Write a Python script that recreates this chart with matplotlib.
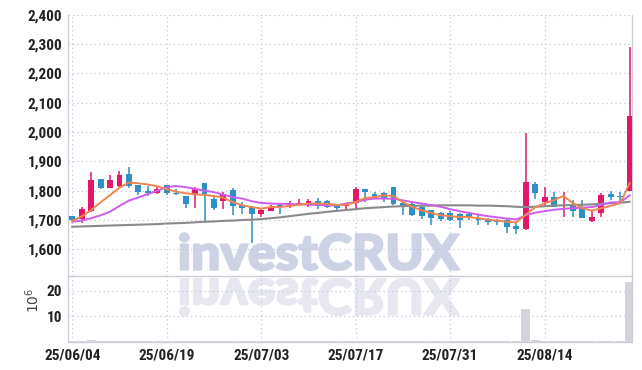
import numpy as np
import matplotlib

matplotlib.use('Agg')
from matplotlib import pyplot as plt
from matplotlib import font_manager
from matplotlib.textpath import TextPath
from matplotlib.patches import PathPatch
from matplotlib.font_manager import FontProperties
import matplotlib.transforms as mtransforms

# trading days shown on the chart
dates = ['25/06/04', '25/06/05', '25/06/09', '25/06/10', '25/06/11', '25/06/12', '25/06/13',
         '25/06/16', '25/06/17', '25/06/18', '25/06/19', '25/06/20', '25/06/23', '25/06/24',
         '25/06/25', '25/06/26', '25/06/27', '25/06/30', '25/07/01', '25/07/02', '25/07/03',
         '25/07/04', '25/07/07', '25/07/08', '25/07/09', '25/07/10', '25/07/11', '25/07/14',
         '25/07/15', '25/07/16', '25/07/17', '25/07/18', '25/07/21', '25/07/22', '25/07/23',
         '25/07/24', '25/07/25', '25/07/28', '25/07/29', '25/07/30', '25/07/31', '25/08/01',
         '25/08/04', '25/08/05', '25/08/06', '25/08/07', '25/08/08', '25/08/11', '25/08/12',
         '25/08/13', '25/08/14', '25/08/18', '25/08/19', '25/08/20', '25/08/21', '25/08/22',
         '25/08/25', '25/08/26', '25/08/27', '25/08/28']

opens = [1712, 1703, 1730, 1839, 1809, 1815, 1858, 1818, 1799, 1792,
         1818, 1793, 1781, 1786, 1825, 1773, 1765, 1801, 1750, 1744,
         1719, 1730, 1750, 1750, 1752, 1755, 1764, 1766, 1750, 1746,
         1758, 1805, 1788, 1793, 1811, 1759, 1756, 1744, 1733, 1725,
         1725, 1722, 1722, 1706, 1703, 1699, 1700, 1680, 1669, 1823,
         1762, 1777, 1746, 1751, 1745, 1695, 1725, 1789, 1781, 1800]
highs = [1714, 1743, 1863, 1841, 1852, 1866, 1882, 1820, 1816, 1812,
         1820, 1806, 1783, 1811, 1826, 1785, 1796, 1808, 1761, 1746,
         1741, 1750, 1759, 1764, 1770, 1770, 1775, 1767, 1752, 1752,
         1813, 1806, 1795, 1795, 1812, 1761, 1760, 1746, 1735, 1727,
         1730, 1724, 1727, 1717, 1706, 1702, 1706, 1692, 1995, 1830,
         1814, 1797, 1797, 1768, 1768, 1734, 1791, 1800, 1797, 2290]
lows = [1698, 1690, 1727, 1807, 1808, 1812, 1810, 1784, 1782, 1790,
        1786, 1786, 1741, 1742, 1690, 1735, 1739, 1718, 1722, 1623,
        1710, 1729, 1722, 1741, 1750, 1744, 1739, 1740, 1733, 1737,
        1733, 1761, 1773, 1761, 1751, 1718, 1712, 1705, 1684, 1695,
        1695, 1673, 1700, 1683, 1683, 1683, 1655, 1652, 1667, 1770,
        1745, 1743, 1711, 1711, 1708, 1694, 1711, 1768, 1762, 1798]
closes = [1700, 1737, 1836, 1809, 1836, 1853, 1815, 1795, 1792, 1806,
          1793, 1790, 1756, 1804, 1790, 1742, 1790, 1748, 1741, 1720,
          1733, 1744, 1743, 1756, 1759, 1764, 1748, 1744, 1742, 1750,
          1805, 1795, 1780, 1775, 1753, 1748, 1716, 1714, 1707, 1705,
          1701, 1701, 1709, 1700, 1693, 1694, 1677, 1669, 1828, 1792,
          1778, 1743, 1751, 1732, 1708, 1709, 1785, 1780, 1777, 2055]

# volume in millions
volume = [0.15, 0.25, 0.6, 0.2, 0.2, 0.25, 0.3, 0.15, 0.1, 0.1,
          0.12, 0.08, 0.15, 0.12, 0.2, 0.12, 0.1, 0.15, 0.08, 0.15,
          0.1, 0.08, 0.08, 0.06, 0.07, 0.07, 0.08, 0.08, 0.06, 0.06,
          0.2, 0.1, 0.06, 0.07, 0.1, 0.07, 0.1, 0.08, 0.08, 0.07,
          0.06, 0.08, 0.06, 0.06, 0.05, 0.05, 0.1, 0.1, 12.8, 0.45,
          0.35, 0.2, 0.15, 0.12, 0.15, 0.1, 0.15, 0.1, 0.08, 23.7]

# moving average lines
ma_short = [1697, 1712, 1734, 1760, 1785, 1810, 1828, 1825, 1821, 1815,
            1805, 1797, 1791, 1788, 1785, 1782, 1776, 1761, 1750, 1744,
            1739, 1744, 1744, 1748, 1752, 1756, 1756, 1755, 1751, 1752,
            1761, 1775, 1778, 1784, 1782, 1761, 1744, 1733, 1724, 1716,
            1713, 1710, 1710, 1706, 1701, 1698, 1694, 1692, 1718, 1743,
            1757, 1768, 1782, 1757, 1740, 1732, 1740, 1748, 1757, 1826]
ma_mid = [1694, 1698, 1706, 1716, 1728, 1748, 1766, 1777, 1788, 1800,
          1812, 1816, 1812, 1806, 1800, 1795, 1786, 1778, 1773, 1764,
          1758, 1756, 1755, 1755, 1753, 1752, 1752, 1750, 1750, 1756,
          1761, 1769, 1773, 1773, 1772, 1767, 1761, 1756, 1751, 1745,
          1737, 1730, 1724, 1718, 1713, 1709, 1705, 1702, 1716, 1725,
          1730, 1735, 1738, 1740, 1742, 1744, 1751, 1760, 1760, 1784]
ma_long = [1677, 1678, 1679, 1680, 1681, 1682, 1683, 1684, 1685, 1686,
           1688, 1689, 1690, 1692, 1694, 1695, 1697, 1698, 1700, 1701,
           1703, 1706, 1709, 1713, 1717, 1721, 1724, 1728, 1731, 1734,
           1737, 1740, 1742, 1744, 1746, 1747, 1748, 1749, 1749, 1750,
           1750, 1750, 1750, 1749, 1749, 1748, 1747, 1745, 1744, 1745,
           1747, 1749, 1750, 1751, 1752, 1753, 1755, 1757, 1759, 1762]

price_ticks = [1600, 1700, 1800, 1900, 2000, 2100, 2200, 2300, 2400]
volume_ticks = [10, 20]
date_tick_step = 10

UP = '#e2176a'
DOWN = '#2d90c6'
GRID = '#c4c8dc'
EDGE = '#cdced6'

# pick a narrow face for the tick labels if one is installed
installed = {f.name for f in font_manager.fontManager.ttflist}
tick_font, tick_stretch, tick_size = 'DejaVu Sans', 'condensed', 10.5
for name in ['Liberation Sans Narrow', 'Roboto Condensed', 'Open Sans Condensed',
             'Noto Sans Condensed', 'DejaVu Sans Condensed']:
    if name in installed:
        tick_font, tick_stretch, tick_size = name, 'normal', 11
        break

W, H = 642, 370
fig = plt.figure(figsize=(W / 100, H / 100), dpi=100)

left, right = 68, 632
top, mid, bottom = 14.7, 275.7, 341.5
ax = fig.add_axes([left / W, 1 - mid / H, (right - left) / W, (mid - top) / H])
vax = fig.add_axes([left / W, 1 - bottom / H, (right - left) / W, (bottom - mid) / H], sharex=ax)

x = np.arange(len(dates))
o = np.array(opens)
c = np.array(closes)
colors = [UP if cc >= oo else DOWN for oo, cc in zip(o, c)]

# candles
ax.vlines(x, lows, highs, colors=colors, linewidth=1.1, zorder=3)
body_lo = np.minimum(o, c)
body_h = np.maximum(np.abs(c - o), 2)
ax.bar(x, body_h, bottom=body_lo, width=0.62, color=colors, linewidth=0, zorder=3)

ax.plot(x, ma_long, color='#8a8a8a', linewidth=1.5, zorder=4)
ax.plot(x, ma_mid, color='#cf5cf0', linewidth=1.4, zorder=4)
ax.plot(x, ma_short, color='#ef8550', linewidth=1.4, zorder=4)

vax.bar(x, volume, width=0.98, color='#d4d4dc', linewidth=0, zorder=3)

ax.set_xlim(-0.45, 59.25)
ax.set_ylim(1510, 2400)
vax.set_ylim(0, 26)

ax.set_yticks(price_ticks)
ax.set_yticklabels(['{:,}'.format(t) for t in price_ticks])
vax.set_yticks(volume_ticks)
vax.set_yticklabels([str(t) for t in volume_ticks])
tick_pos = x[::date_tick_step]
vax.set_xticks(tick_pos)
vax.set_xticklabels([dates[i] for i in tick_pos])
ax.tick_params(axis='x', labelbottom=False)

for a in (ax, vax):
    a.set_axisbelow(True)
    a.grid(True, color=GRID, linestyle=(0, (1, 2.5)), linewidth=0.9)
    a.tick_params(length=0, colors='#222222', labelsize=tick_size)
    for lab in a.get_xticklabels() + a.get_yticklabels():
        lab.set_family(tick_font)
        lab.set_stretch(tick_stretch)
        lab.set_fontweight('bold')
    a.spines['top'].set_visible(False)
    for s in ('left', 'right', 'bottom'):
        a.spines[s].set_color(EDGE)
        a.spines[s].set_linewidth(1.0)
    a.patch.set_alpha(0)
    a.set_zorder(2)
ax.tick_params(axis='y', pad=4)
vax.tick_params(axis='y', pad=4)
vax.tick_params(axis='x', pad=5)

fig.text(33 / W, 1 - 300 / H, r'$10^6$', rotation=90, ha='center', va='center',
         fontsize=10, color='#444444')

# watermark with its mirrored reflection, behind the axes
fp = FontProperties(family=['Lato', 'DejaVu Sans'], weight='black')
tp = TextPath((0, 0), 'investCRUX', size=50, prop=fp)
bb = tp.get_extents()
wx0, wx1 = 180, 459
wy_top, wy_base = 233.3, 270.0
sx = (wx1 - wx0) / bb.width
sy = (wy_base - wy_top) / bb.height
tr_up = mtransforms.Affine2D().translate(-bb.x0, -bb.y0).scale(sx, sy).translate(wx0, H - wy_base)
tr_dn = mtransforms.Affine2D().translate(-bb.x0, -bb.y0).scale(sx, -sy).translate(wx0, H - 278.7)
fig.add_artist(PathPatch(tp, transform=tr_up, facecolor='#cdd3e5', edgecolor='#cdd3e5',
                         linewidth=1.6, joinstyle='round', zorder=1))
fig.add_artist(PathPatch(tp, transform=tr_dn, facecolor='#e6e7ef', edgecolor='#e6e7ef',
                         linewidth=1.6, joinstyle='round', zorder=1))

fig.savefig('out.png', dpi=100, facecolor='white')
plt.close(fig)
